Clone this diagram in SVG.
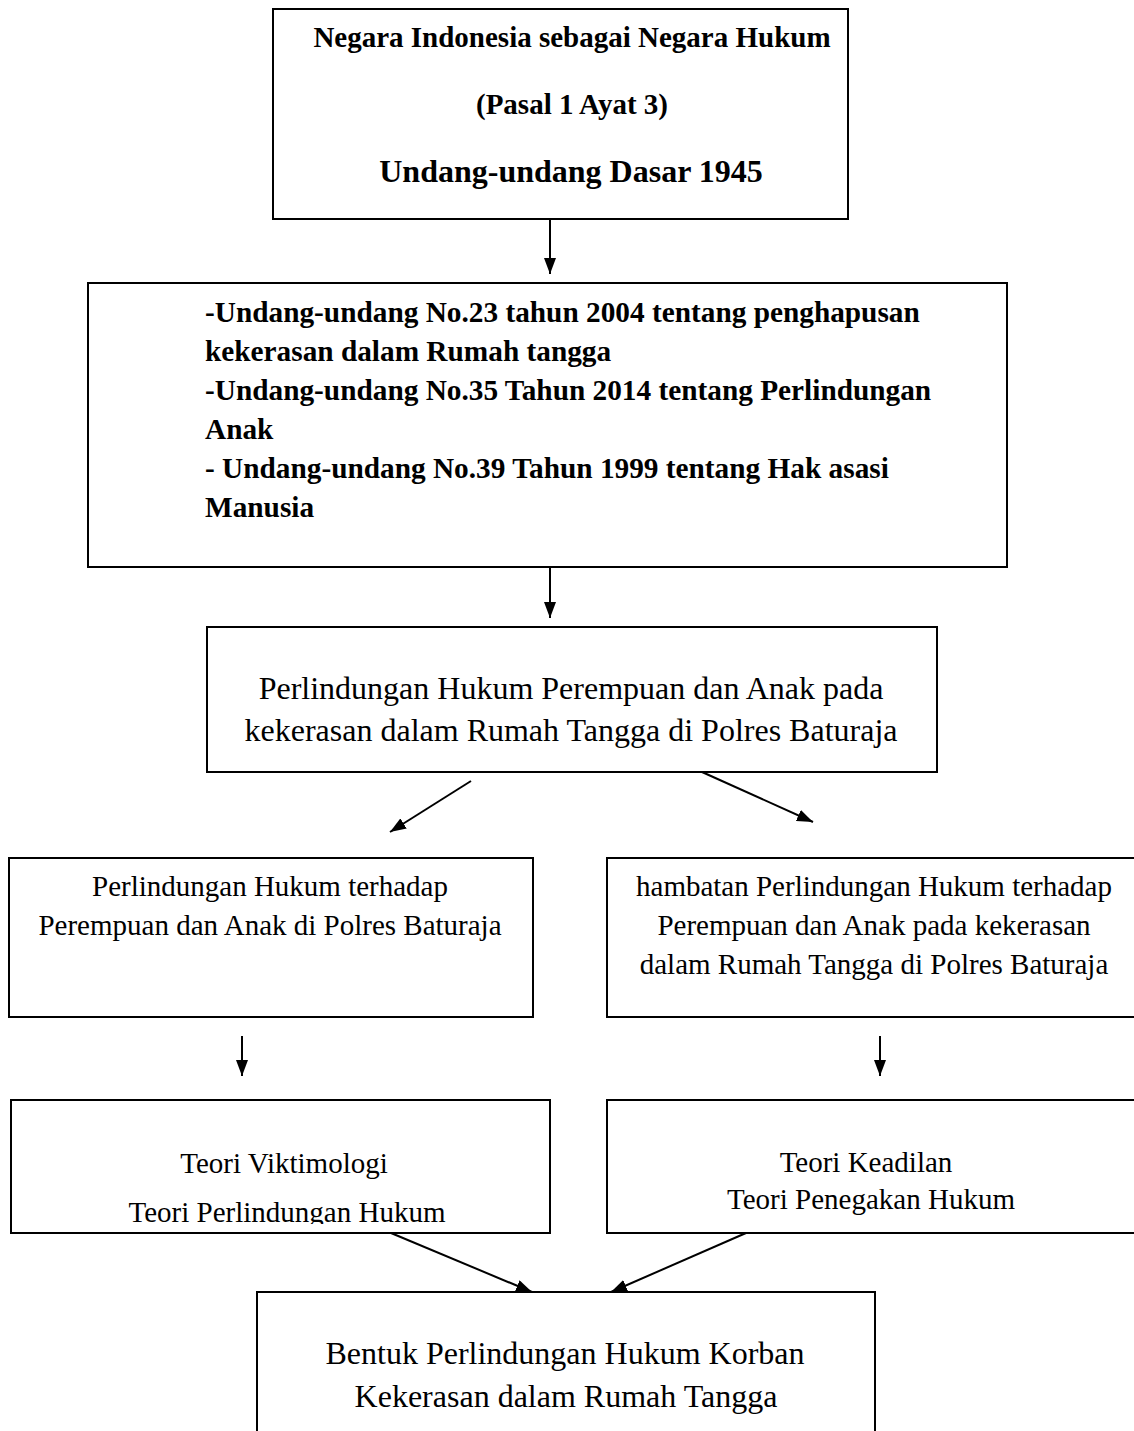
<svg xmlns="http://www.w3.org/2000/svg" width="1134" height="1431" viewBox="0 0 1134 1431">
<style>
.box{fill:#fff;stroke:#000;stroke-width:2}
.b{font-family:"Liberation Serif","Times New Roman",serif;font-weight:bold;fill:#000}
.r{font-family:"Liberation Serif","Times New Roman",serif;fill:#000}
.c{text-anchor:middle}
.ln{stroke:#000;stroke-width:2;fill:none;marker-end:url(#ah)}
</style>
<defs>
<marker id="ah" viewBox="0 0 16 12" refX="16" refY="6" markerWidth="16" markerHeight="12" markerUnits="userSpaceOnUse" orient="auto">
<path d="M0,0 L16,6 L0,12 z" fill="#000"/>
</marker>
<clipPath id="clipL"><rect x="0" y="1100" width="560" height="124"/></clipPath>
</defs>
<rect width="1134" height="1431" fill="#fff"/>
<g id="connectors">
<line class="ln" x1="550" y1="219" x2="550" y2="274"/>
<line class="ln" x1="550" y1="567" x2="550" y2="618"/>
<line class="ln" x1="471" y1="781" x2="390" y2="832"/>
<line class="ln" x1="702" y1="772" x2="813" y2="822"/>
<line class="ln" x1="242" y1="1036" x2="242" y2="1076"/>
<line class="ln" x1="880" y1="1036" x2="880" y2="1076"/>
<line class="ln" x1="391" y1="1233" x2="532" y2="1292"/>
<line class="ln" x1="746" y1="1233" x2="611" y2="1292"/>
</g>
<g id="n1">
<rect class="box" x="273" y="9" width="575" height="210"/>
<text class="b c" x="572" y="47" font-size="29">Negara Indonesia sebagai Negara Hukum</text>
<text class="b c" x="572" y="114" font-size="29">(Pasal 1 Ayat 3)</text>
<text class="b c" x="571" y="182" font-size="32">Undang-undang Dasar 1945</text>
</g>
<g id="n2">
<rect class="box" x="88" y="283" width="919" height="284"/>
<text class="b" x="205" font-size="29.3"><tspan x="205" y="322">-Undang-undang No.23 tahun 2004 tentang penghapusan</tspan><tspan x="205" y="361">kekerasan dalam Rumah tangga</tspan><tspan x="205" y="400">-Undang-undang No.35 Tahun 2014 tentang Perlindungan</tspan><tspan x="205" y="439">Anak</tspan><tspan x="205" y="478">- Undang-undang No.39 Tahun 1999 tentang Hak asasi</tspan><tspan x="205" y="517">Manusia</tspan></text>
</g>
<g id="n3">
<rect class="box" x="207" y="627" width="730" height="145"/>
<text class="r c" x="571" y="699" font-size="32">Perlindungan Hukum Perempuan dan Anak pada</text>
<text class="r c" x="571" y="741" font-size="32">kekerasan dalam Rumah Tangga di Polres Baturaja</text>
</g>
<g id="n4">
<rect class="box" x="9" y="858" width="524" height="159"/>
<text class="r c" x="270" y="896" font-size="29">Perlindungan Hukum terhadap</text>
<text class="r c" x="270" y="935" font-size="29">Perempuan dan Anak di Polres Baturaja</text>
</g>
<g id="n5">
<rect class="box" x="607" y="858" width="540" height="159"/>
<text class="r c" x="874" y="896" font-size="29">hambatan Perlindungan Hukum terhadap</text>
<text class="r c" x="874" y="935" font-size="29">Perempuan dan Anak pada kekerasan</text>
<text class="r c" x="874" y="974" font-size="29">dalam Rumah Tangga di Polres Baturaja</text>
</g>
<g id="n6">
<rect class="box" x="11" y="1100" width="539" height="133"/>
<text class="r c" x="284" y="1173" font-size="29">Teori Viktimologi</text>
<text class="r c" x="287" y="1222" font-size="29" clip-path="url(#clipL)">Teori Perlindungan Hukum</text>
</g>
<g id="n7">
<rect class="box" x="607" y="1100" width="540" height="133"/>
<text class="r c" x="866" y="1172" font-size="29">Teori Keadilan</text>
<text class="r c" x="871" y="1209" font-size="29">Teori Penegakan Hukum</text>
</g>
<g id="n8">
<rect class="box" x="257" y="1292" width="618" height="160"/>
<text class="r c" x="565" y="1364" font-size="32">Bentuk Perlindungan Hukum Korban</text>
<text class="r c" x="566" y="1407" font-size="32">Kekerasan dalam Rumah Tangga</text>
</g>
</svg>
